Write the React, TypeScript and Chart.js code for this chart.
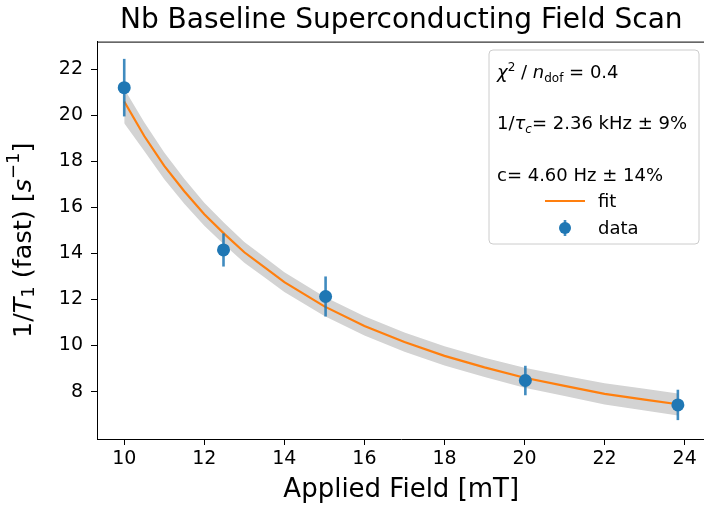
import React, { useEffect, useRef } from "react";
import { Chart, registerables } from "chart.js";

Chart.register(...registerables);

// ---- data ----
const fieldX = [10.0, 12.48, 15.03, 20.02, 23.83];
const rateY = [21.2, 14.15, 12.13, 8.48, 7.42];
const rateErr = [1.25, 0.72, 0.87, 0.64, 0.66];

const fitX = [10, 10.5, 11, 11.5, 12, 12.5, 13, 13.5, 14, 15, 16, 17, 18, 19, 20, 21, 22, 23, 23.83];
const fitY = [20.6, 19.1, 17.8, 16.7, 15.7, 14.85, 14.05, 13.4, 12.75, 11.7, 10.85, 10.15, 9.55, 9.05, 8.6, 8.25, 7.9, 7.65, 7.45];
const bandUpper = [21.15, 19.7, 18.38, 17.24, 16.2, 15.32, 14.5, 13.84, 13.18, 12.12, 11.27, 10.57, 9.97, 9.47, 9.03, 8.69, 8.36, 8.12, 7.92];
const bandLower = [19.65, 18.45, 17.22, 16.16, 15.2, 14.38, 13.6, 12.96, 12.32, 11.28, 10.43, 9.73, 9.13, 8.63, 8.17, 7.81, 7.44, 7.18, 6.96];

const xTicks = [10, 12, 14, 16, 18, 20, 22, 24];
const yTicks = [8, 10, 12, 14, 16, 18, 20, 22];

const titleText = "Nb Baseline Superconducting Field Scan";
const xTitle = "Applied Field [mT]";
const chiVal = "0.4";
const tauText = "= 2.36 kHz \u00B1 9%";
const cText = "c= 4.60 Hz \u00B1 14%";
const fitLabel = "fit";
const dataLabel = "data";

const FONT = "'DejaVu Sans', sans-serif";
const BLUE = "#1f77b4";
const ORANGE = "#ff7f0e";

const errorBarPlugin = {
  id: "errorBars",
  beforeDatasetDraw(chart: any, args: any) {
    if (args.index !== 0) return;
    const { ctx, scales } = chart;
    const xs = scales.x;
    const ys = scales.y;
    ctx.save();
    ctx.strokeStyle = "rgba(31,119,180,0.85)";
    ctx.lineWidth = 2.6;
    for (let i = 0; i < fieldX.length; i++) {
      const px = xs.getPixelForValue(fieldX[i]);
      ctx.beginPath();
      ctx.moveTo(px, ys.getPixelForValue(rateY[i] + rateErr[i]));
      ctx.lineTo(px, ys.getPixelForValue(rateY[i] - rateErr[i]));
      ctx.stroke();
    }
    ctx.restore();
  },
};

type Seg = { t: string; italic?: boolean; size?: number; dy?: number };

function segFont(s: Seg, base: number) {
  const sz = s.size ?? base;
  return `${s.italic ? "italic " : ""}${sz}px ${FONT}`;
}

function measureSegs(ctx: CanvasRenderingContext2D, segs: Seg[], base: number) {
  let w = 0;
  for (const s of segs) {
    ctx.font = segFont(s, base);
    w += ctx.measureText(s.t).width;
  }
  return w;
}

function drawSegs(ctx: CanvasRenderingContext2D, segs: Seg[], x: number, y: number, base: number) {
  let cx = x;
  for (const s of segs) {
    ctx.font = segFont(s, base);
    ctx.fillText(s.t, cx, y + (s.dy ?? 0));
    cx += ctx.measureText(s.t).width;
  }
}

const ySegs: Seg[] = [
  { t: "1/" },
  { t: "T", italic: true },
  { t: "1", size: 18, dy: 5 },
  { t: " (fast) [" },
  { t: "s", italic: true },
  { t: "\u22121", size: 18, dy: -10 },
  { t: "]" },
];

const frameLegendPlugin = {
  id: "frameLegend",
  afterDraw(chart: any) {
    const { ctx, chartArea } = chart;
    const { left, right, top, bottom } = chartArea;
    ctx.save();
    // top and right spines
    ctx.strokeStyle = "#000";
    ctx.lineWidth = 1;
    ctx.beginPath();
    ctx.moveTo(left, top + 0.5);
    ctx.lineTo(right - 0.5, top + 0.5);
    ctx.lineTo(right - 0.5, bottom);
    ctx.stroke();

    // y-axis title (with italic T and super/subscripts)
    ctx.save();
    ctx.fillStyle = "#000";
    ctx.textBaseline = "middle";
    ctx.textAlign = "left";
    ctx.translate(24, (top + bottom) / 2);
    ctx.rotate(-Math.PI / 2);
    const yb = 25.5;
    const tw = measureSegs(ctx, ySegs, yb);
    drawSegs(ctx, ySegs, -tw / 2, 0, yb);
    ctx.restore();

    // legend box
    const bx = 489, by = 50, bw = 210, bh = 194, r = 4;
    ctx.beginPath();
    ctx.moveTo(bx + r, by);
    ctx.lineTo(bx + bw - r, by);
    ctx.quadraticCurveTo(bx + bw, by, bx + bw, by + r);
    ctx.lineTo(bx + bw, by + bh - r);
    ctx.quadraticCurveTo(bx + bw, by + bh, bx + bw - r, by + bh);
    ctx.lineTo(bx + r, by + bh);
    ctx.quadraticCurveTo(bx, by + bh, bx, by + bh - r);
    ctx.lineTo(bx, by + r);
    ctx.quadraticCurveTo(bx, by, bx + r, by);
    ctx.closePath();
    ctx.fillStyle = "rgba(255,255,255,0.8)";
    ctx.fill();
    ctx.strokeStyle = "#cccccc";
    ctx.lineWidth = 1;
    ctx.stroke();

    ctx.fillStyle = "#000";
    ctx.textBaseline = "alphabetic";
    ctx.textAlign = "left";
    const fs = 18;
    const tx = 497;
    drawSegs(ctx, [
      { t: "\u03C7", italic: true },
      { t: "2", size: 12, dy: -7 },
      { t: " / " },
      { t: "n", italic: true },
      { t: "dof", size: 12, dy: 4 },
      { t: " = " + chiVal },
    ], tx, 78, fs);
    drawSegs(ctx, [
      { t: "1/" },
      { t: "\u03C4", italic: true },
      { t: "c", italic: true, size: 12, dy: 4 },
      { t: tauText },
    ], tx, 129, fs);
    drawSegs(ctx, [{ t: cText }], tx, 181, fs);

    // fit entry
    ctx.strokeStyle = ORANGE;
    ctx.lineWidth = 2.2;
    ctx.beginPath();
    ctx.moveTo(545, 201);
    ctx.lineTo(585, 201);
    ctx.stroke();
    ctx.font = `${fs}px ${FONT}`;
    ctx.textBaseline = "middle";
    ctx.fillText(fitLabel, 598, 202);
    // data entry
    ctx.strokeStyle = "rgba(31,119,180,0.85)";
    ctx.lineWidth = 2.6;
    ctx.beginPath();
    ctx.moveTo(565, 220);
    ctx.lineTo(565, 236);
    ctx.stroke();
    ctx.fillStyle = BLUE;
    ctx.beginPath();
    ctx.arc(565, 228, 6, 0, Math.PI * 2);
    ctx.fill();
    ctx.fillStyle = "#000";
    ctx.fillText(dataLabel, 598, 229);
    ctx.restore();
  },
};

export default function App() {
  const ref = useRef<HTMLCanvasElement | null>(null);

  useEffect(() => {
    if (!ref.current) return;
    const chart = new Chart(ref.current, {
      type: "line",
      data: {
        datasets: [
          {
            label: dataLabel,
            data: fieldX.map((x, i) => ({ x, y: rateY[i] })),
            showLine: false,
            pointRadius: 6.5,
            pointBackgroundColor: BLUE,
            pointBorderWidth: 0,
            borderColor: BLUE,
            backgroundColor: BLUE,
          },
          {
            label: fitLabel,
            data: fitX.map((x, i) => ({ x, y: fitY[i] })),
            borderColor: ORANGE,
            borderWidth: 2.2,
            pointRadius: 0,
            tension: 0,
            fill: false,
          },
          {
            label: "band upper",
            data: fitX.map((x, i) => ({ x, y: bandUpper[i] })),
            borderWidth: 0,
            borderColor: "rgba(0,0,0,0)",
            pointRadius: 0,
            fill: "+1",
            backgroundColor: "#d3d3d3",
          },
          {
            label: "band lower",
            data: fitX.map((x, i) => ({ x, y: bandLower[i] })),
            borderWidth: 0,
            borderColor: "rgba(0,0,0,0)",
            pointRadius: 0,
            fill: false,
          },
        ],
      },
      options: {
        responsive: false,
        animation: false,
        events: [],
        layout: { padding: { left: 0, right: 2, top: 0, bottom: 0 } },
        plugins: {
          legend: { display: false },
          tooltip: { enabled: false },
          title: {
            display: true,
            text: titleText,
            fullSize: false,
            color: "#000",
            font: { family: FONT, size: 28, weight: "normal" },
            padding: { top: 4, bottom: 4 },
          },
        },
        scales: {
          x: {
            type: "linear",
            min: 9.32,
            max: 24.52,
            afterFit: (s: any) => { s.height = 70; s.paddingLeft = 0; s.paddingRight = 0; },
            afterBuildTicks: (s: any) => { s.ticks = xTicks.map((v) => ({ value: v })); },
            grid: { display: true, drawOnChartArea: false, drawTicks: true, tickLength: 6, color: "#000", tickWidth: 1 },
            border: { display: true, color: "#000", width: 1 },
            ticks: { color: "#000", font: { family: FONT, size: 19 }, padding: 3, maxRotation: 0 },
            title: {
              display: true,
              text: xTitle,
              color: "#000",
              font: { family: FONT, size: 26 },
              padding: { top: 0, bottom: 3 },
            },
          },
          y: {
            type: "linear",
            min: 5.94,
            max: 23.2,
            afterFit: (s: any) => { s.width = 97; s.paddingTop = 0; s.paddingBottom = 0; },
            afterBuildTicks: (s: any) => { s.ticks = yTicks.map((v) => ({ value: v })); },
            grid: { display: true, drawOnChartArea: false, drawTicks: true, tickLength: 6, color: "#000", tickWidth: 1 },
            border: { display: true, color: "#000", width: 1 },
            ticks: { color: "#000", font: { family: FONT, size: 19 }, padding: 8 },
            title: { display: false },
          },
        },
      },
      plugins: [errorBarPlugin, frameLegendPlugin],
    } as any);
    return () => chart.destroy();
  }, []);

  return (
    <div style={{ position: "fixed", left: 0, top: 0, width: 704, height: 509, background: "#fff", overflow: "hidden" }}>
      <canvas ref={ref} width={712} height={509} style={{ display: "block" }} />
    </div>
  );
}
